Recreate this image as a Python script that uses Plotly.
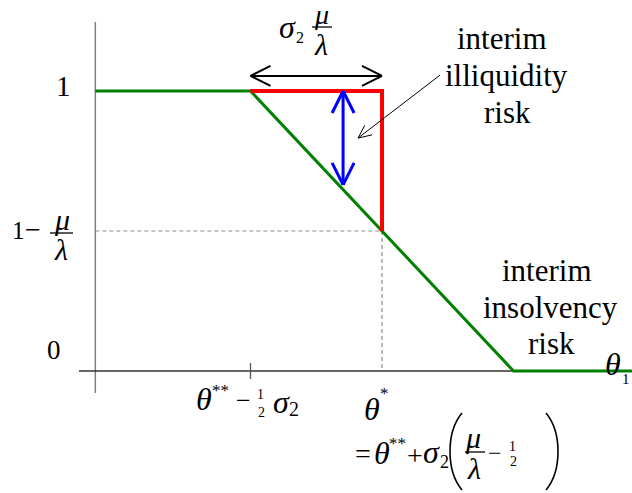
import plotly.graph_objects as go

# ---------------- data (units: theta** = 0, sigma2 = 1, mu/lambda = 0.5) ----------------
green_x = [-1.09, -0.5, 0.5, 0.95]
green_y = [1.0, 1.0, 0.0, 0.0]
red_x = [-0.5, 0.0, 0.0]
red_y = [1.0, 1.0, 0.5]
dash_h_x = [-1.09, 0.0]
dash_h_y = [0.5, 0.5]
dash_v_x = [0.0, 0.0]
dash_v_y = [0.5, 0.0]
width_arrow_x = [-0.5, 0.0]
width_arrow_y = [1.054, 1.054]
gap_arrow_x = [-0.148, -0.148]
gap_arrow_y = [1.0, 0.665]
pointer_x = [0.221, -0.091]
pointer_y = [1.057, 0.832]
yaxis_x = [-1.09, -1.09]
yaxis_y = [1.246, -0.079]
xaxis_x = [-1.152, 0.95]
xaxis_y = [0.0, 0.0]
tick_x = [-0.5]
tick_y = [0.0]
illiquidity_lines = ["interim", "illiquidity", "risk"]
insolvency_lines = ["interim", "insolvency", "risk"]

# ---------------- pixel <-> data helpers (layout only) ----------------
W, H = 632, 493
X0, SX = 382.0, 263.0
Y0, SY = 371.0, 280.0


def dx(px):
    return (px - X0) / SX


def dy(py):
    return (Y0 - py) / SY


def px_of(x):
    return X0 + x * SX


def py_of(y):
    return Y0 - y * SY


FONT = "Liberation Serif"
fig = go.Figure()


def line(xs, ys, color, width, dash=None):
    fig.add_trace(go.Scatter(x=xs, y=ys, mode="lines", hoverinfo="skip",
                             line=dict(color=color, width=width, dash=dash),
                             showlegend=False))


def heads(xs, ys, length, half, color, width, both=True):
    # open V arrowheads at the end(s) of the segment xs, ys
    hx, hy = [], []
    pts = [(xs[1], ys[1], xs[0], ys[0])]
    if both:
        pts.append((xs[0], ys[0], xs[1], ys[1]))
    for tx, ty, fx, fy in pts:
        tpx, tpy = px_of(tx), py_of(ty)
        fpx, fpy = px_of(fx), py_of(fy)
        vx, vy = tpx - fpx, tpy - fpy
        n = (vx * vx + vy * vy) ** 0.5
        ux, uy = vx / n, vy / n
        bx, by = tpx - length * ux, tpy - length * uy
        for s in (1, -1):
            hx += [dx(bx - s * half * uy), tx, None]
            hy += [dy(by + s * half * ux), ty, None]
    line(hx, hy, color, width)


# axes
line(yaxis_x, yaxis_y, "#7f7f7f", 1.5)
line(xaxis_x, xaxis_y, "#333333", 1.3)
for tx, ty in zip(tick_x, tick_y):
    line([tx, tx], [ty + 8 / SY, ty - 8 / SY], "#555555", 1.3)

# dashed guides
line(dash_h_x, dash_h_y, "#8c8c8c", 1.2, "4px,3px")
line(dash_v_x, dash_v_y, "#8c8c8c", 1.2, "4px,3px")

# curves
line(green_x, green_y, "#008000", 3)
line(red_x, red_y, "#ff0000", 4)

# arrows
line(width_arrow_x, width_arrow_y, "black", 2)
heads(width_arrow_x, width_arrow_y, 20, 10, "black", 2)
line(gap_arrow_x, gap_arrow_y, "#0000ff", 3)
heads(gap_arrow_x, gap_arrow_y, 22, 11, "#0000ff", 3)
line(pointer_x, pointer_y, "black", 1)
heads(pointer_x, pointer_y, 13, 6, "black", 1, both=False)

annotations = []
shapes = []


def txt(px, py, s, size, xanchor="center", yanchor="middle"):
    annotations.append(dict(x=dx(px), y=dy(py), xref="x", yref="y", text=s,
                            showarrow=False, xanchor=xanchor, yanchor=yanchor,
                            font=dict(family=FONT, size=size, color="black")))


def bar(px0, px1, py, w=1.3):
    shapes.append(dict(type="line", xref="x", yref="y", x0=dx(px0), x1=dx(px1),
                       y0=dy(py), y1=dy(py), line=dict(color="black", width=w)))


def paren(px_end, px_mid, py0, py1):
    k = (py1 - py0) * 0.25
    d = "M {:.5f},{:.5f} C {:.5f},{:.5f} {:.5f},{:.5f} {:.5f},{:.5f}".format(
        dx(px_end), dy(py0), dx(px_mid), dy(py0 + k), dx(px_mid), dy(py1 - k),
        dx(px_end), dy(py1))
    shapes.append(dict(type="path", xref="x", yref="y", path=d,
                       line=dict(color="black", width=1.6)))


G = 32  # size of Greek symbols

# y labels
txt(63, 86, "1", 29)
txt(54, 350, "0", 27)
txt(18, 230, "1", 25)
txt(33, 229, "\u2212", 28)
txt(62, 219, "<i>μ</i>", 30)
bar(50, 73, 233)
txt(61, 249, "<i>λ</i>", 30)

# top label sigma2 mu/lambda
txt(287, 27, "<i>σ</i>", G)
txt(300, 37, "2", 16)
txt(321, 14, "<i>μ</i>", 28)
bar(312, 332, 27)
txt(321, 44, "<i>λ</i>", 30)

# text blocks (one annotation per line)
for s, cx, cy in zip(illiquidity_lines, [502, 506, 507], [38, 75, 112]):
    txt(cx, cy, s, 31)
for s, cx, cy in zip(insolvency_lines, [547, 550, 551], [270, 307, 343]):
    txt(cx, cy, s, 31)
txt(613, 364, "<i>θ</i>", G)
txt(626, 379, "1", 15)

# x tick label theta** - 1/2 sigma2
txt(203.5, 399, "<i>θ</i>", G)
txt(220, 390, "**", 17)
txt(243, 400, "\u2212", 26)
txt(260, 394, "1", 14)
txt(261, 412, "2", 14)
txt(281.5, 402, "<i>σ</i>", G)
txt(294, 409, "2", 20)

# theta*
txt(371.5, 409, "<i>θ</i>", G)
txt(384, 393, "*", 17)

# = theta** + sigma2 (mu/lambda - 1/2)
txt(363, 453, "=", 28)
txt(381.5, 453, "<i>θ</i>", G)
txt(397.5, 443, "**", 17)
txt(415, 455, "+", 28)
txt(431.5, 452, "<i>σ</i>", G)
txt(444, 462, "2", 18)
paren(462, 446, 413, 490)
txt(473, 437, "<i>μ</i>", 30)
bar(465, 485, 452)
txt(474, 468, "<i>λ</i>", 30)
txt(495, 453, "\u2212", 24)
txt(512, 446, "1", 14)
txt(513, 461, "2", 14)
paren(546, 562, 413, 490)

fig.update_layout(
    width=W, height=H,
    margin=dict(l=0, r=0, t=0, b=0),
    paper_bgcolor="white", plot_bgcolor="white",
    xaxis=dict(range=[dx(0), dx(W)], visible=False, fixedrange=True),
    yaxis=dict(range=[dy(H), dy(0)], visible=False, fixedrange=True),
    annotations=annotations,
    shapes=shapes,
    showlegend=False,
)

fig.write_html("out.html", post_script="document.body.style.margin='0px';",
               config=dict(displayModeBar=False))
